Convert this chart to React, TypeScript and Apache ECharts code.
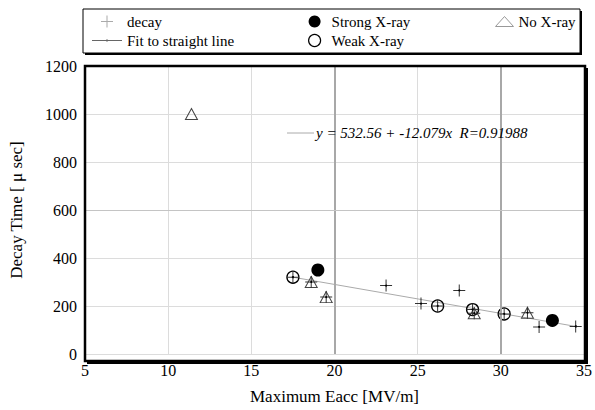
import React, { useEffect, useRef } from "react";
import * as echarts from "echarts";

const xTicks = [5, 10, 15, 20, 25, 30, 35];
const yTicks = [0, 200, 400, 600, 800, 1000, 1200];

const decayPts: number[][] = [
  [17.5, 320], [18.6, 300], [19.5, 237], [23.1, 285], [25.2, 210], [26.2, 200],
  [27.5, 265], [28.3, 185], [28.4, 170], [30.2, 167], [31.6, 172], [32.3, 113],
  [33.1, 140], [34.5, 115],
];
const strongPts: number[][] = [[19.0, 350], [33.1, 140]];
const weakPts: number[][] = [[17.5, 320], [26.2, 200], [28.3, 185], [30.2, 167]];
const noXrayPts: number[][] = [[11.4, 1000], [18.6, 300], [19.5, 237], [28.4, 170], [31.6, 172]];
const fitLinePts: number[][] = [[17.5, 320], [34.5, 115]];
const majorXLines = [20, 30];
const majorYLines = [600];
const fitLabel = "y = 532.56 + -12.079x  R=0.91988";

const FONT = "'Liberation Serif', 'Times New Roman', serif";
const PLUS = "path://M5.5,0H6.5V12H5.5ZM0,5.5H12V6.5H0Z";
const LINE_ICON = "path://M0,5.6H30V6.4H0ZM14.2,5H15.8V7H14.2Z";

export default function App() {
  const ref = useRef<HTMLDivElement>(null);
  useEffect(() => {
    if (!ref.current) return;
    const chart = echarts.init(ref.current, undefined, { renderer: "svg" });
    const gL = 85, gT = 66, gR = 585, gB = 361;
    const legendText = { fontFamily: FONT, fontSize: 15, color: "#000" };
    chart.setOption({
      animation: false,
      backgroundColor: "#fff",
      textStyle: { fontFamily: FONT },
      grid: {
        left: gL, top: gT, right: 595 - gR, bottom: 410 - gB,
        show: false,
      },
      xAxis: {
        type: "value", min: xTicks[0], max: xTicks[xTicks.length - 1], interval: 5,
        name: "Maximum Eacc [MV/m]", nameLocation: "middle", nameGap: 34,
        nameTextStyle: { fontFamily: FONT, fontSize: 17, color: "#000" },
        axisLine: { show: false }, axisTick: { show: false },
        axisLabel: { fontFamily: FONT, fontSize: 16, color: "#000", margin: 8 },
        splitLine: { show: true, lineStyle: { color: "#dcdcdc", width: 1 } },
      },
      yAxis: {
        type: "value", min: yTicks[0], max: yTicks[yTicks.length - 1], interval: 200,
        name: "Decay Time [ \u03bc sec]", nameLocation: "middle", nameGap: 60,
        nameTextStyle: { fontFamily: FONT, fontSize: 17, color: "#000" },
        axisLine: { show: false }, axisTick: { show: false },
        axisLabel: { fontFamily: FONT, fontSize: 16, color: "#000", margin: 8, formatter: (v: number) => String(v) },
        splitLine: { show: true, lineStyle: { color: "#dcdcdc", width: 1 } },
      },
      legend: [
        {
          left: 87, top: 9, orient: "vertical", itemWidth: 30, itemHeight: 12, itemGap: 4,
          data: [
            { name: "decay", icon: PLUS, itemStyle: { color: "#aaa", opacity: 1 } },
            { name: "Fit to straight line", icon: LINE_ICON, itemStyle: { color: "#666", opacity: 1 } },
          ],
          textStyle: legendText,
        },
        {
          left: 303, top: 9, orient: "vertical", itemWidth: 24, itemHeight: 12, itemGap: 4,
          data: [
            { name: "Strong X-ray", icon: "circle", itemStyle: { color: "#000", borderWidth: 0, opacity: 1 } },
            { name: "Weak X-ray", icon: "circle", itemStyle: { color: "#fff", borderColor: "#000", borderWidth: 1.2, opacity: 1 } },
          ],
          textStyle: legendText,
        },
        {
          left: 490, top: 9, orient: "vertical", itemWidth: 18, itemHeight: 10, itemGap: 6,
          data: [
            { name: "No X-ray", icon: "triangle", itemStyle: { color: "#fff", borderColor: "#999", borderWidth: 1, opacity: 1 } },
          ],
          textStyle: legendText,
        },
      ],
      graphic: [
        { type: "rect", shape: { x: 85, y: 11, width: 497, height: 44 }, style: { fill: "#000" }, z: 0 },
        { type: "rect", shape: { x: 83, y: 9, width: 497, height: 44 }, style: { fill: "#fff", stroke: "#000", lineWidth: 1 }, z: 1 },
        { type: "rect", shape: { x: gR + 1, y: gT + 2, width: 2, height: gB - gT + 1 }, style: { fill: "#000" }, z: 100 },
        { type: "rect", shape: { x: gL + 2, y: gB + 1, width: gR - gL + 1, height: 2 }, style: { fill: "#000" }, z: 100 },
        { type: "rect", shape: { x: gL, y: gT, width: gR - gL, height: gB - gT }, style: { fill: "none", stroke: "#000", lineWidth: 2.5 }, z: 100 },
        { type: "line", shape: { x1: 287, y1: 133, x2: 314, y2: 133 }, style: { stroke: "#aaa", lineWidth: 1 }, z: 10 },
        {
          type: "text", x: 316, y: 133, z: 10,
          style: { text: fitLabel, fontFamily: FONT, fontStyle: "italic", fontSize: 15, fill: "#000", verticalAlign: "middle", align: "left" },
        },
      ],
      series: [
        {
          type: "scatter", name: "grid", data: [], silent: true, z: 1,
          markLine: {
            silent: true, symbol: ["none", "none"], label: { show: false }, animation: false,
            data: [
              ...majorXLines.map((v) => ({ xAxis: v, lineStyle: { color: "#a8a8a8", width: 2, type: "solid" } })),
              ...majorYLines.map((v) => ({ yAxis: v, lineStyle: { color: "#c4c4c4", width: 1, type: "solid" } })),
            ],
          },
        },
        {
          type: "line", name: "Fit to straight line", data: fitLinePts, z: 2,
          lineStyle: { color: "#aaa", width: 1 }, symbol: "circle", symbolSize: 2,
          itemStyle: { color: "#000", opacity: 1 }, showSymbol: true,
        },
        {
          type: "scatter", name: "No X-ray", data: noXrayPts, symbol: "triangle", symbolSize: [12, 11], z: 3,
          itemStyle: { color: "transparent", borderColor: "#444", borderWidth: 1, opacity: 1 },
        },
        {
          type: "scatter", name: "Weak X-ray", data: weakPts, symbol: "circle", symbolSize: 12, z: 4,
          itemStyle: { color: "transparent", borderColor: "#000", borderWidth: 1.3, opacity: 1 },
        },
        {
          type: "scatter", name: "decay", data: decayPts, symbol: PLUS, symbolSize: 12, z: 5,
          itemStyle: { color: "#333", opacity: 1 },
        },
        {
          type: "scatter", name: "fitDots", data: decayPts, symbol: "circle", symbolSize: 2, z: 6,
          itemStyle: { color: "#000", opacity: 1 }, silent: true,
        },
        {
          type: "scatter", name: "Strong X-ray", data: strongPts, symbol: "circle", symbolSize: 13, z: 7,
          itemStyle: { color: "#000", opacity: 1 },
        },
      ],
    });
    return () => chart.dispose();
  }, []);
  return <div ref={ref} style={{ position: "fixed", left: 0, top: 0, width: 595, height: 410 }} />;
}
